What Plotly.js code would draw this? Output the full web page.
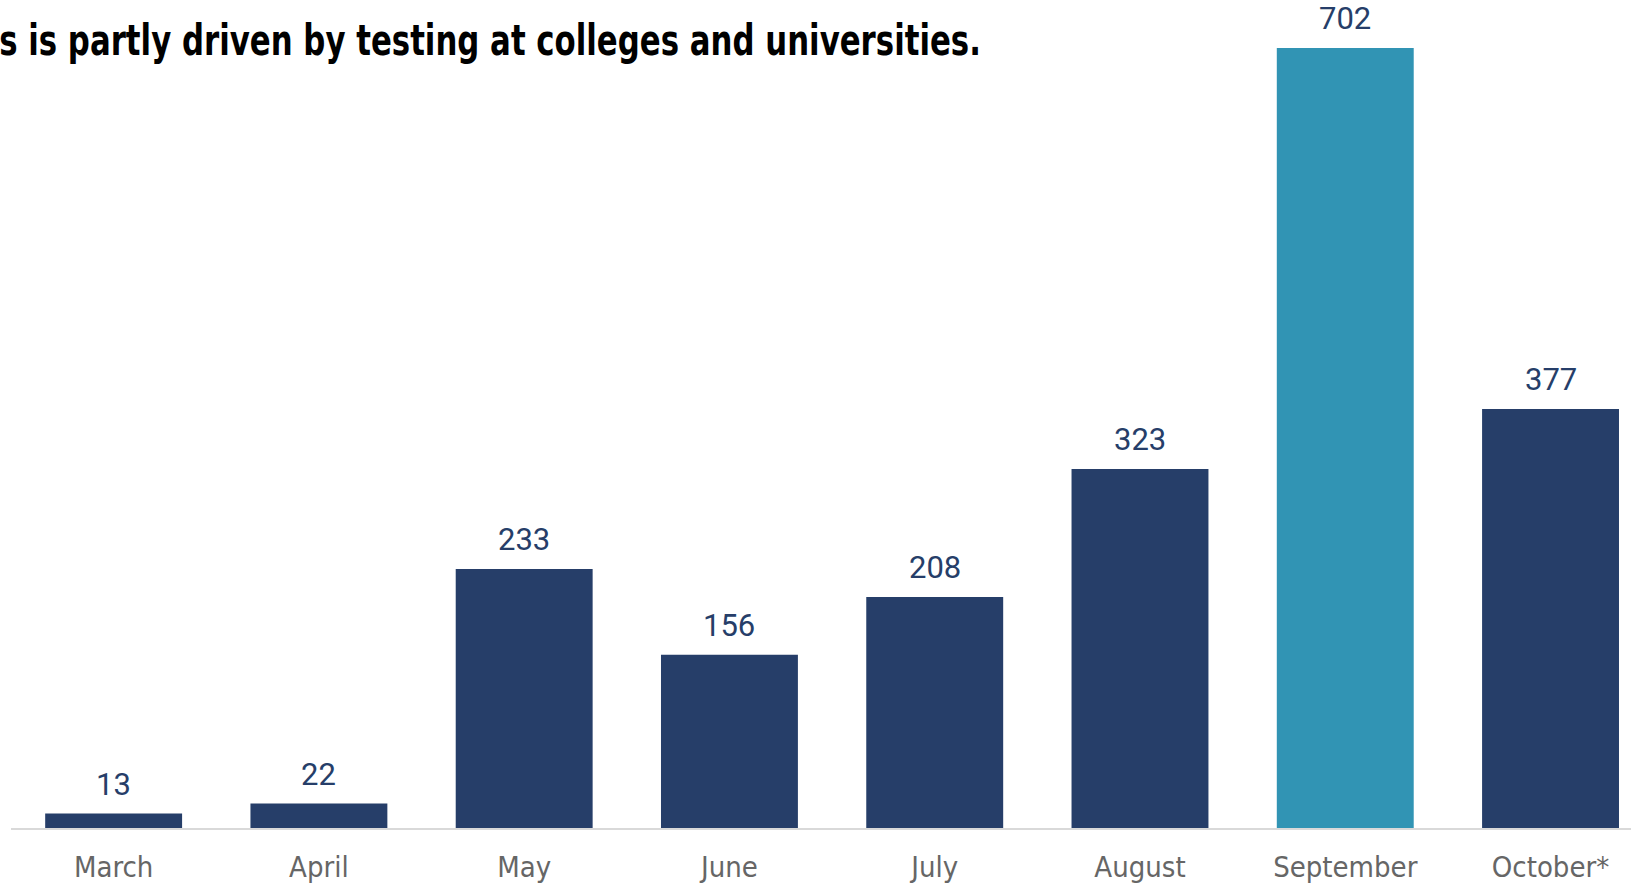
<!DOCTYPE html>
<html>
<head>
<meta charset="utf-8">
<script src="https://cdn.plot.ly/plotly-3.0.1.min.js"></script>
<style>
html,body{margin:0;padding:0;background:#fff;}
#chart{width:1631px;height:883px;}
</style>
</head>
<body>
<div id="chart"></div>
<script>
// Data
const months = ["March", "April", "May", "June", "July", "August", "September", "October*"];
const cases = [13, 22, 233, 156, 208, 323, 702, 377];
const highlightMonth = "September";
const titleText = "s is partly driven by testing at colleges and universities.";

const NAVY = "#263e69";
const TEAL = "#3194b4";
const colors = months.map(m => m === highlightMonth ? TEAL : NAVY);

const trace = {
  type: "bar",
  x: months,
  y: cases,
  marker: {color: colors, line: {width: 0}},
  hoverinfo: "x+y",
  cliponaxis: false
};

const labelAnnotations = months.map((m, i) => ({
  x: m, y: cases[i], xref: "x", yref: "y",
  text: String(cases[i]),
  showarrow: false,
  yanchor: "bottom",
  yshift: 9,
  font: {family: "Roboto, 'Liberation Sans', sans-serif", size: 31, color: NAVY}
}));

const titleAnnotation = {
  xref: "paper", yref: "paper",
  x: 0.6, y: 1,
  xanchor: "right", yanchor: "top",
  yshift: -13,
  text: "<b>" + titleText + "</b>",
  showarrow: false,
  font: {family: "'DejaVu Sans Condensed', 'Liberation Sans', sans-serif", size: 43, color: "#000"}
};

const layout = {
  width: 1631, height: 883,
  margin: {l: 11, r: 0, t: 0, b: 55, pad: 0},
  paper_bgcolor: "#fff",
  plot_bgcolor: "#fff",
  showlegend: false,
  bargap: 0.333,
  xaxis: {
    type: "category",
    range: [-0.5, 7.392],
    showgrid: false,
    zeroline: false,
    showline: true,
    linecolor: "#d9d9d9",
    linewidth: 2,
    ticks: "outside",
    ticklen: 12,
    tickcolor: "rgba(0,0,0,0)",
    tickfont: {family: "'DejaVu Sans Condensed', 'Liberation Sans', sans-serif", size: 29, color: "#666"},
    fixedrange: true
  },
  yaxis: {
    range: [0, 745.2],
    visible: false,
    showgrid: false,
    zeroline: false,
    fixedrange: true
  },
  annotations: labelAnnotations.concat([titleAnnotation])
};

Plotly.newPlot("chart", [trace], layout, {displayModeBar: false, staticPlot: true}).then(() => {
  // condense the headline horizontally to mimic a condensed heavy typeface
  const idx = labelAnnotations.length;
  const t = document.querySelector('.annotation[data-index="' + idx + '"] text');
  if (t) {
    const bb = t.getBBox();
    const R = bb.x + bb.width;
    const s = 982 / bb.width;
    t.setAttribute('transform', 'translate(' + R + ',0) scale(' + s + ',1) translate(' + (-R) + ',0)');
  }
});
</script>
</body>
</html>
